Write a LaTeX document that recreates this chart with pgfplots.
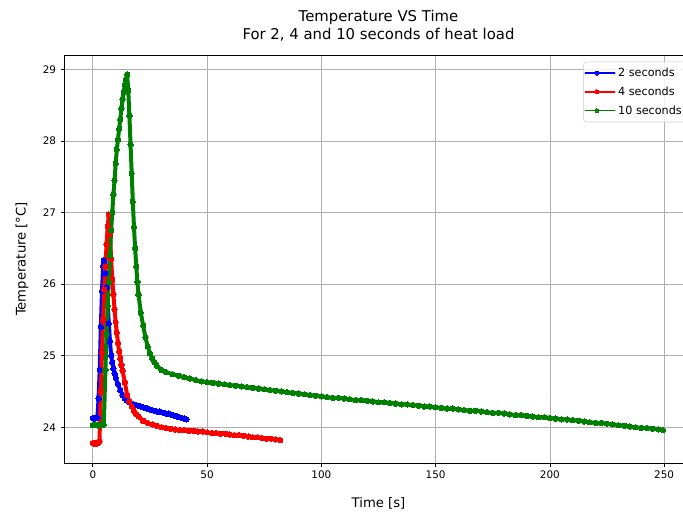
\documentclass[border=0pt]{standalone}
\usepackage{fontspec}
\setmainfont{DejaVu Sans}
\usepackage{pgfplots}
\pgfplotsset{compat=1.18}
\usetikzlibrary{calc}
\definecolor{mplblue}{HTML}{0000FF}
\definecolor{mplred}{HTML}{FF0000}
\definecolor{mplgreen}{HTML}{008000}

\begin{document}
\begin{tikzpicture}
\begin{axis}[
  name=ax,
  scale only axis,
  width=471.3pt, height=306pt,
  xmin=-12.5, xmax=262.5,
  ymin=23.5, ymax=29.2,
  xtick={0,50,...,250},
  ytick={24,25,26,27,28,29},
  tick pos=left,
  tick align=outside,
  major tick length=2.6pt,
  tick style={line width=0.6pt, black},
  grid=major,
  grid style={color=black!31, line width=0.6pt},
  axis line style={line width=0.6pt},
  /pgf/number format/assume math mode=true,
  ticklabel style={font=\fontsize{7.8}{9}\selectfont},
  title={Temperature VS Time\\For 2, 4 and 10 seconds of heat load},
  title style={at={(axis description cs:0.5,1)}, anchor=center, yshift=15.9pt,
    align=center, font=\fontsize{11.15}{13.2}\selectfont},
  xlabel={Time [s]},
  ylabel={Temperature [°C]},
  xlabel style={at={(axis description cs:0.5,-0.098)}, anchor=center,
    font=\fontsize{9.9}{12}\selectfont},
  ylabel style={at={(axis description cs:-0.0673,0.5)}, anchor=center,
    font=\fontsize{9.9}{12}\selectfont},
  legend style={at={(1,1)}, anchor=north east, xshift=-5.2pt, yshift=-5pt,
    draw=black!20, rounded corners=2pt, fill=white, fill opacity=0.8,
    text opacity=1, font=\fontsize{8.4}{9.5}\selectfont, row sep=2.2pt,
    inner xsep=0.8pt, inner ysep=2.5pt, cells={anchor=west}},
  legend image code/.code={
    \draw[mark repeat=2, mark phase=2] plot coordinates {(0pt,0pt) (8.6pt,0pt) (17.25pt,0pt)};
    \path (0pt,0pt) -- (22pt,0pt);},
  legend image post style={line width=1.1pt, mark size=1.5pt},
  every axis plot/.append style={line width=3pt, line join=round, line cap=round,
    mark=*, mark size=2pt, mark options={line width=0pt}},
]
% 2 seconds
\addplot[color=mplblue] coordinates {
  (0,24.13) (0.5,24.12) (1,24.13) (1.5,24.14) (2,24.13) (2.5,24.4) (3,24.8)
  (3.5,25.4) (4,25.9) (4.5,26.25) (4.8,26.33) (5,26.3) (5.5,26.15) (6,25.95)
  (6.5,25.7) (7,25.45) (7.5,25.2) (8,25.0) (8.5,24.9) (9,24.82) (9.5,24.75)
  (10,24.69) (11,24.6) (12,24.52) (13,24.45) (14,24.4) (15,24.37) (16,24.35)
  (17,24.33) (18,24.32) (19,24.31) (20,24.3) (21,24.29) (22,24.28) (23,24.27)
  (24,24.26) (25,24.25) (26,24.24) (27,24.23) (28,24.22) (29,24.22) (30,24.21)
  (31,24.2) (32,24.19) (33,24.19) (34,24.18) (35,24.17) (36,24.16) (37,24.15)
  (38,24.14) (39,24.13) (40,24.12) (41,24.11)
};
\addlegendentry{2 seconds}
% 4 seconds
\addplot[color=mplred] coordinates {
  (0,23.78) (0.5,23.77) (1,23.78) (1.5,23.77) (2,23.78) (2.5,23.79) (2.9,23.8)
  (3.5,24.5) (4,25.05) (4.5,25.5) (5,25.92) (5.5,26.25) (6,26.55) (6.5,26.8)
  (7,26.97) (7.5,26.7) (8,26.35) (8.5,26.07) (9,25.85) (9.5,25.65) (10,25.47)
  (10.5,25.32) (11,25.18) (11.5,25.06) (12,24.96) (12.5,24.87) (13,24.79)
  (14,24.63) (15,24.45) (16,24.36) (17,24.29) (18,24.23) (19,24.18) (20,24.15)
  (22,24.09) (24,24.06) (26,24.04) (28,24.02) (30,24.0) (32,23.99) (34,23.98)
  (36,23.97) (38,23.96) (40,23.96) (42,23.95) (44,23.95) (46,23.94) (48,23.94)
  (50,23.93) (52,23.92) (54,23.92) (56,23.91) (58,23.91) (60,23.9) (62,23.89)
  (64,23.89) (66,23.88) (68,23.87) (70,23.86) (72,23.86) (74,23.85) (76,23.84)
  (78,23.84) (80,23.83) (82,23.82)
};
\addlegendentry{4 seconds}
% 10 seconds
\addplot[color=mplgreen] coordinates {
  (0,24.03) (0.5,24.03) (1,24.04) (1.5,24.03) (2,24.03) (2.5,24.02) (3,24.03)
  (3.5,24.03) (4,24.04) (4.5,24.03) (4.8,24.04) (5.5,24.8) (6,25.3) (6.5,25.7)
  (7,26.03) (7.5,26.4) (8,26.75) (8.5,27.0) (9,27.25) (9.5,27.45) (10,27.68)
  (10.5,27.88) (11,28.02) (11.5,28.17) (12,28.3) (12.5,28.45) (13,28.58)
  (13.5,28.68) (14,28.78) (14.5,28.86) (15,28.93) (15.5,28.7) (16,28.35)
  (16.5,27.95) (17,27.55) (17.5,27.15) (18,26.8) (18.5,26.5) (19,26.25)
  (19.5,26.03) (20,25.85) (21,25.6) (22,25.42) (23,25.26) (24,25.13) (25,25.03)
  (26,24.96) (27,24.91) (28,24.86) (30,24.8) (32,24.77) (35,24.74) (37.5,24.72)
  (40,24.7) (42.5,24.68) (45,24.66) (47.5,24.64) (50,24.63) (52.5,24.62)
  (55,24.61) (57.5,24.6) (60,24.59) (62.5,24.58) (65,24.57) (67.5,24.56)
  (70,24.55) (72.5,24.54) (75,24.53) (77.5,24.52) (80,24.51) (82.5,24.5)
  (85,24.49) (87.5,24.48) (90,24.47) (92.5,24.46) (95,24.45) (97.5,24.44)
  (100,24.43) (102.5,24.42) (105,24.41) (107.5,24.41) (110,24.4) (112.5,24.39)
  (115,24.38) (117.5,24.38) (120,24.37) (122.5,24.36) (125,24.35) (127.5,24.35)
  (130,24.34) (132.5,24.33) (135,24.32) (137.5,24.32) (140,24.31) (142.5,24.3)
  (145,24.29) (147.5,24.29) (150,24.28) (152.5,24.27) (155,24.26) (157.5,24.26)
  (160,24.25) (162.5,24.24) (165,24.23) (167.5,24.23) (170,24.22) (172.5,24.21)
  (175,24.2) (177.5,24.2) (180,24.19) (182.5,24.18) (185,24.17) (187.5,24.17)
  (190,24.16) (192.5,24.15) (195,24.14) (197.5,24.14) (200,24.13) (202.5,24.12)
  (205,24.11) (207.5,24.11) (210,24.1) (212.5,24.09) (215,24.08) (217.5,24.07)
  (220,24.06) (222.5,24.06) (225,24.05) (227.5,24.04) (230,24.03) (232.5,24.02)
  (235,24.01) (237.5,24.0) (240,23.99) (242.5,23.99) (245,23.98) (247.5,23.97)
  (249.5,23.96)
};
\addlegendentry{10 seconds}
\end{axis}
\pgfresetboundingbox
\path[use as bounding box] ($(ax.south west)+(-48.2pt,-38.25pt)$) rectangle ($(ax.north west)+(464pt,41.25pt)$);
\end{tikzpicture}
\end{document}
